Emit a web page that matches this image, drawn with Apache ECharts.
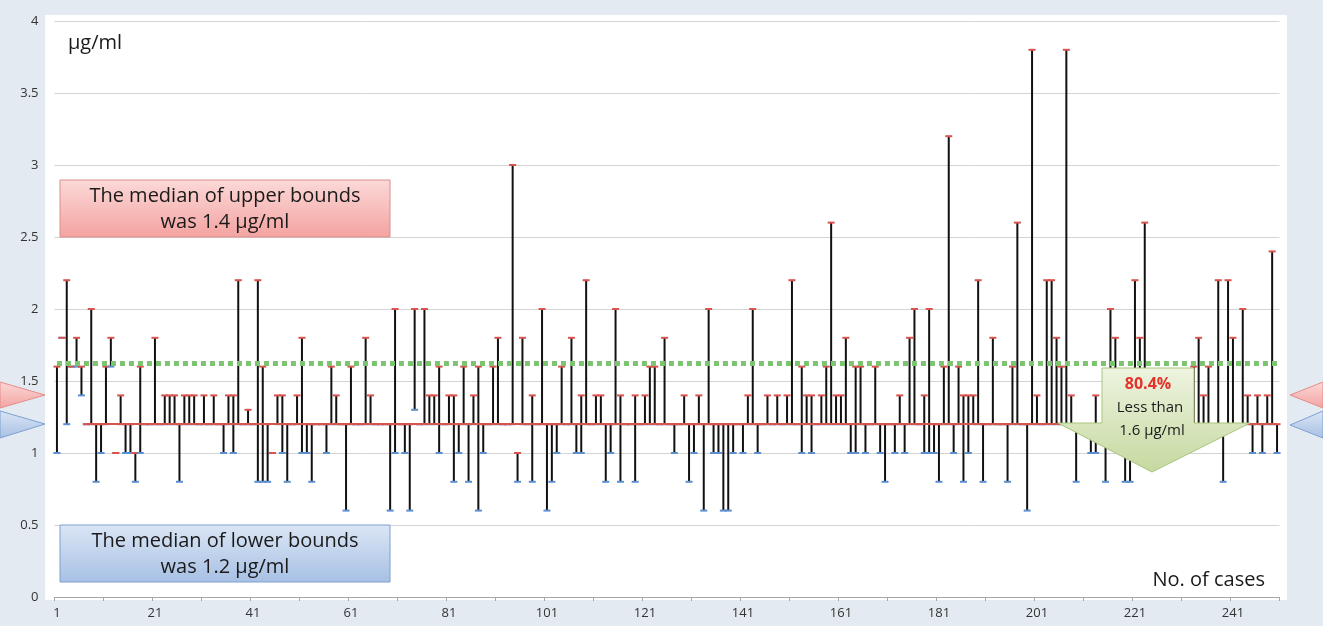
<!DOCTYPE html>
<html><head><meta charset="utf-8">
<script src="https://cdn.jsdelivr.net/npm/echarts@6/dist/echarts.min.js"></script>
<style>html,body{margin:0;padding:0;background:#e4eaf2;}#c{width:1323px;height:626px;}</style>
</head><body><div id="c"></div>
<script>
// case numbers 1..250
const cases = Array.from({length: 250}, (_, i) => String(i + 1));
// lower bound (µg/ml) per case
const lower = [
1.0,1.8,1.2,1.6,1.6,1.4,1.2,1.2,0.8,1.0,
1.2,1.6,1.0,1.2,1.0,1.0,0.8,1.0,1.2,1.2,
1.2,1.2,1.2,1.2,1.2,0.8,1.2,1.2,1.2,1.2,
1.2,1.2,1.2,1.2,1.0,1.2,1.0,1.2,1.2,1.2,
1.2,0.8,0.8,0.8,1.0,1.2,1.0,0.8,1.2,1.2,
1.0,1.0,0.8,1.2,1.2,1.0,1.2,1.2,1.2,0.6,
1.2,1.2,1.2,1.2,1.2,1.2,1.2,1.2,0.6,1.0,
1.2,1.0,0.6,1.3,1.2,1.2,1.2,1.2,1.0,1.2,
1.2,0.8,1.0,1.2,0.8,1.2,0.6,1.0,1.2,1.2,
1.2,1.2,1.2,1.2,0.8,1.2,1.2,0.8,1.2,1.2,
0.6,0.8,1.0,1.2,1.2,1.2,1.0,1.0,1.2,1.2,
1.2,1.2,0.8,1.0,1.2,0.8,1.2,1.2,0.8,1.2,
1.2,1.2,1.2,1.2,1.2,1.2,1.0,1.2,1.2,0.8,
1.0,1.2,0.6,1.2,1.0,1.0,0.6,0.6,1.0,1.2,
1.0,1.2,1.2,1.0,1.2,1.2,1.2,1.2,1.2,1.2,
1.2,1.2,1.0,1.2,1.0,1.2,1.2,1.2,1.2,1.2,
1.2,1.2,1.0,1.0,1.2,1.0,1.2,1.2,1.0,0.8,
1.2,1.0,1.2,1.0,1.2,1.2,1.2,1.0,1.0,1.0,
0.8,1.2,1.2,1.0,1.2,0.8,1.0,1.2,1.2,0.8,
1.2,1.2,1.2,1.2,0.8,1.2,1.2,1.2,0.6,1.2,
1.2,1.2,1.2,1.2,1.2,1.2,1.2,1.2,0.8,1.2,
1.2,1.0,1.0,1.2,0.8,1.2,1.2,1.2,0.8,0.8,
1.2,1.2,1.2,1.2,1.0,1.2,1.2,1.2,1.0,1.2,
1.2,1.2,1.2,1.2,1.2,1.2,1.2,1.2,0.8,1.2,
1.2,1.2,1.2,1.2,1.0,1.2,1.0,1.2,1.2,1.0
];
// upper bound (µg/ml) per case
const upper = [
1.6,1.8,2.2,1.6,1.8,1.6,1.2,2.0,1.2,1.2,
1.6,1.8,1.0,1.4,1.2,1.2,1.0,1.6,1.2,1.2,
1.8,1.2,1.4,1.4,1.4,1.2,1.4,1.4,1.4,1.2,
1.4,1.2,1.4,1.2,1.2,1.4,1.4,2.2,1.2,1.3,
1.2,2.2,1.6,1.2,1.0,1.4,1.4,1.2,1.2,1.4,
1.8,1.2,1.2,1.2,1.2,1.2,1.6,1.4,1.2,1.2,
1.6,1.2,1.2,1.8,1.4,1.2,1.2,1.2,1.2,2.0,
1.2,1.2,1.2,2.0,1.2,2.0,1.4,1.4,1.6,1.2,
1.4,1.4,1.2,1.6,1.2,1.4,1.6,1.2,1.2,1.6,
1.8,1.2,1.2,3.0,1.0,1.8,1.2,1.4,1.2,2.0,
1.2,1.2,1.2,1.6,1.2,1.8,1.2,1.4,2.2,1.2,
1.4,1.4,1.2,1.2,2.0,1.4,1.2,1.2,1.4,1.2,
1.4,1.6,1.6,1.2,1.8,1.2,1.2,1.2,1.4,1.2,
1.2,1.4,1.2,2.0,1.2,1.2,1.2,1.2,1.2,1.2,
1.2,1.4,2.0,1.2,1.2,1.4,1.2,1.4,1.2,1.4,
2.2,1.2,1.6,1.4,1.4,1.2,1.4,1.6,2.6,1.4,
1.4,1.8,1.2,1.6,1.6,1.2,1.2,1.6,1.2,1.2,
1.2,1.2,1.4,1.2,1.8,2.0,1.2,1.4,2.0,1.2,
1.2,1.6,3.2,1.2,1.6,1.4,1.4,1.4,2.2,1.2,
1.2,1.8,1.2,1.2,1.2,1.6,2.6,1.2,1.2,3.8,
1.4,1.2,2.2,2.2,1.8,1.6,3.8,1.4,1.2,1.2,
1.2,1.2,1.4,1.2,1.2,2.0,1.8,1.2,1.2,1.2,
2.2,1.8,2.6,1.4,1.2,1.2,1.4,1.2,1.2,1.4,
1.2,1.4,1.6,1.8,1.4,1.6,1.2,2.2,1.2,2.2,
1.8,1.2,2.0,1.4,1.2,1.4,1.2,1.4,2.4,1.2
];
const thresholdLevel = 1.62;   // green dotted line (1.6 µg/ml)
const baseLevel = 1.2;          // red reference line
const yMin = 0, yMax = 4, yStep = 0.5;

const chart = echarts.init(document.getElementById('c'), null, {renderer: 'canvas'});
const FONT = '"Open Sans", sans-serif';
const pinkGrad = new echarts.graphic.LinearGradient(0,0,0,1,[{offset:0,color:'#fbd9d8'},{offset:1,color:'#f3a3a1'}]);
const blueGrad = new echarts.graphic.LinearGradient(0,0,0,1,[{offset:0,color:'#dbe6f5'},{offset:1,color:'#a7c0e4'}]);
const greenGrad = new echarts.graphic.LinearGradient(0,0,0,1,[{offset:0,color:'#eef4e0'},{offset:1,color:'#c5d9a0'}]);

chart.setOption({
  backgroundColor: '#e4eaf2',
  animation: false,
  grid: {left: 54.5, top: 21, width: 1225, height: 576, show: false},
  xAxis: {
    type: 'category', data: cases, boundaryGap: true,
    axisLine: {lineStyle: {color: '#a6a6a6'}},
    axisTick: {show: true, interval: 9, length: 4, lineStyle: {color: '#a6a6a6'}},
    axisLabel: {interval: 19, color: '#333', fontSize: 13, fontFamily: FONT, margin: 10}
  },
  yAxis: {
    type: 'value', min: yMin, max: yMax, interval: yStep,
    axisLine: {show: false}, axisTick: {show: false},
    axisLabel: {color: '#333', fontSize: 13, fontFamily: FONT, margin: 16},
    splitLine: {lineStyle: {color: '#d4d4d4', width: 1}}
  },
  graphic: [
    {type: 'rect', z: -10, silent: true, shape: {x: 45, y: 15, width: 1242, height: 585}, style: {fill: '#ffffff'}},
    // edge triangles
    {type: 'polygon', shape: {points: [[0,382],[45,395],[0,408]]}, style: {fill: pinkGrad, stroke: '#e58c8a'}},
    {type: 'polygon', shape: {points: [[0,411],[45,424],[0,438]]}, style: {fill: blueGrad, stroke: '#7ea0d3'}},
    {type: 'polygon', shape: {points: [[1323,382],[1290,395],[1323,408]]}, style: {fill: pinkGrad, stroke: '#e58c8a'}},
    {type: 'polygon', shape: {points: [[1323,411],[1290,425],[1323,438]]}, style: {fill: blueGrad, stroke: '#7ea0d3'}},
    // unit label
    {type: 'text', z: 10, x: 68, y: 43, style: {text: 'µg/ml', fontSize: 20, fontFamily: FONT, fill: '#1a1a1a', verticalAlign: 'middle'}},
    {type: 'text', z: 10, x: 1265, y: 580, style: {text: 'No. of cases', fontSize: 20, fontFamily: FONT, fill: '#1a1a1a', align: 'right', verticalAlign: 'middle'}},
    // upper median box
    {type: 'rect', z: 10, shape: {x: 60, y: 180, width: 330, height: 57}, style: {fill: pinkGrad, stroke: '#d98f8d', lineWidth: 1}},
    {type: 'text', z: 11, x: 225, y: 209, style: {text: 'The median of upper bounds\nwas 1.4 µg/ml', fontSize: 20, lineHeight: 26, fontFamily: FONT, fill: '#1a1a1a', align: 'center', verticalAlign: 'middle'}},
    // lower median box
    {type: 'rect', z: 10, shape: {x: 60, y: 525, width: 330, height: 57}, style: {fill: blueGrad, stroke: '#7f9fcf', lineWidth: 1}},
    {type: 'text', z: 11, x: 225, y: 554, style: {text: 'The median of lower bounds\nwas 1.2 µg/ml', fontSize: 20, lineHeight: 26, fontFamily: FONT, fill: '#1a1a1a', align: 'center', verticalAlign: 'middle'}},
    // arrow callout
    {type: 'polygon', z: 10, shape: {points: [[1102,368],[1194,368],[1194,423],[1250,423],[1152,472],[1058,423],[1102,423]]}, style: {fill: greenGrad, stroke: '#a9c47a', lineWidth: 1}},
    {type: 'text', z: 11, x: 1148, y: 384, style: {text: '80.4%', fontSize: 16, fontWeight: 'bold', fontFamily: FONT, fill: '#e3332b', align: 'center', verticalAlign: 'middle'}},
    {type: 'text', z: 11, x: 1150, y: 408, style: {text: 'Less than', fontSize: 15, fontFamily: FONT, fill: '#1a1a1a', align: 'center', verticalAlign: 'middle'}},
    {type: 'text', z: 11, x: 1152, y: 431, style: {text: '1.6 µg/ml', fontSize: 15, fontFamily: FONT, fill: '#1a1a1a', align: 'center', verticalAlign: 'middle'}}
  ],
  series: [
    {
      type: 'line', data: [], z: 1, silent: true,
      markLine: {
        symbol: 'none', silent: true, animation: false, label: {show: false},
        data: [
          [{coord: [6, baseLevel], lineStyle: {color: '#d9534f', width: 2, type: 'solid'}}, {coord: [249, baseLevel]}],
          [{coord: [0, thresholdLevel], lineStyle: {color: '#7cc470', width: 5, type: [5, 4]}}, {coord: [249, thresholdLevel]}]
        ]
      }
    },
    {
      type: 'custom', z: 3,
      data: cases.map((c, i) => [i, lower[i], upper[i]]),
      encode: {x: 0, y: [1, 2]},
      renderItem: function (params, api) {
        const x = api.value(0);
        const pLo = api.coord([x, api.value(1)]);
        const pHi = api.coord([x, api.value(2)]);
        const w = 7;
        return {type: 'group', children: [
          {type: 'line', shape: {x1: pLo[0], y1: pLo[1], x2: pHi[0], y2: pHi[1]}, style: {stroke: '#111', lineWidth: 2}},
          {type: 'rect', shape: {x: pLo[0] - w / 2, y: pLo[1] - 1, width: w, height: 2}, style: {fill: '#5b8fd0'}},
          {type: 'rect', shape: {x: pHi[0] - w / 2, y: pHi[1] - 1, width: w, height: 2}, style: {fill: '#d9534f'}}
        ]};
      }
    }
  ]
});
</script></body></html>
